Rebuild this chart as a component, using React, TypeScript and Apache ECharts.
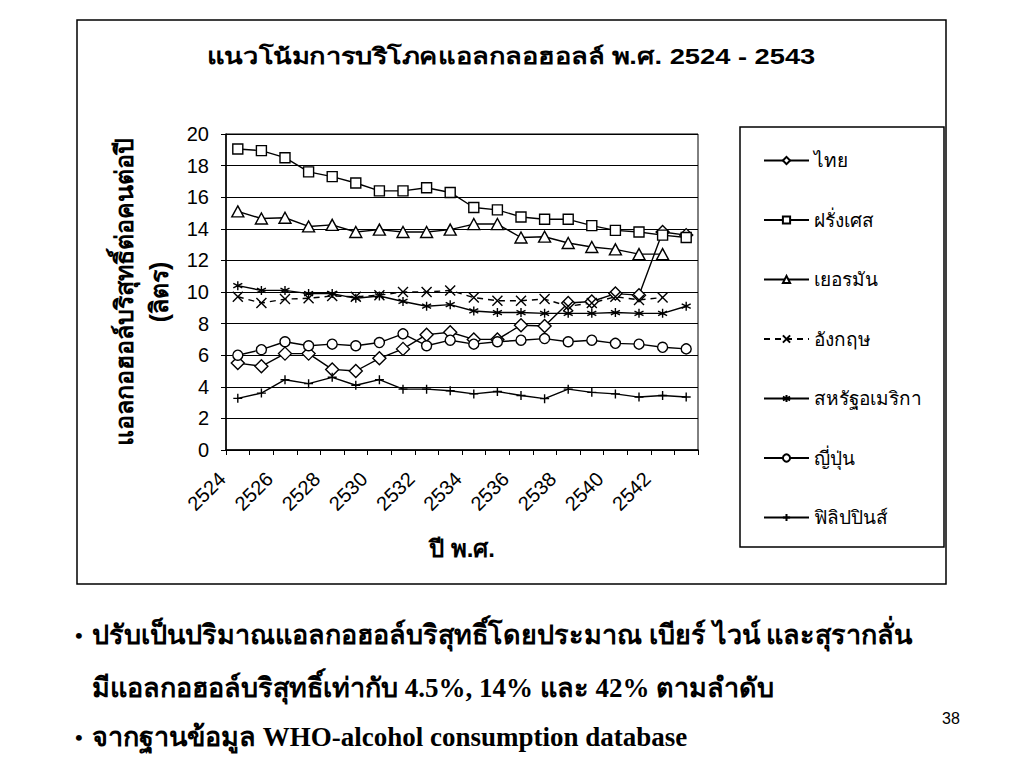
import React, { useEffect, useRef } from "react";
import * as echarts from "echarts";

const years = ["2524","2525","2526","2527","2528","2529","2530","2531","2532","2533","2534","2535","2536","2537","2538","2539","2540","2541","2542","2543"];
const yTicks = [0, 2, 4, 6, 8, 10, 12, 14, 16, 18, 20];

const thai = [5.5, 5.3, 6.1, 6.1, 5.1, 5.0, 5.8, 6.4, 7.3, 7.45, 7.0, 7.0, 7.9, 7.85, 9.3, 9.4, 9.9, 9.8, 13.8, 13.6];
const france = [19.05, 18.95, 18.5, 17.6, 17.3, 16.9, 16.4, 16.4, 16.6, 16.3, 15.35, 15.2, 14.75, 14.6, 14.6, 14.2, 13.9, 13.8, 13.6, 13.45];
const germany = [15.1, 14.65, 14.7, 14.15, 14.25, 13.8, 13.95, 13.8, 13.8, 13.95, 14.3, 14.3, 13.45, 13.5, 13.1, 12.85, 12.7, 12.4, 12.4, null];
const england = [9.7, 9.3, 9.55, 9.6, 9.75, 9.7, 9.8, 10.0, 10.0, 10.1, 9.65, 9.45, 9.45, 9.55, 9.1, 9.3, 9.7, 9.5, 9.65, null];
const usa = [10.4, 10.1, 10.1, 9.9, 9.9, 9.6, 9.75, 9.4, 9.1, 9.2, 8.8, 8.7, 8.7, 8.65, 8.65, 8.65, 8.7, 8.65, 8.65, 9.1];
const japan = [6.0, 6.35, 6.85, 6.6, 6.7, 6.6, 6.8, 7.35, 6.6, 6.95, 6.7, 6.85, 6.95, 7.05, 6.85, 6.95, 6.75, 6.7, 6.5, 6.4];
const philippines = [3.27, 3.6, 4.45, 4.2, 4.6, 4.1, 4.45, 3.85, 3.85, 3.75, 3.55, 3.7, 3.45, 3.25, 3.85, 3.65, 3.55, 3.35, 3.45, 3.35];

const seriesNames = ["ไทย", "ฝรั่งเศส", "เยอรมัน", "อังกฤษ", "สหรัฐอเมริกา", "ญี่ปุ่น", "ฟิลิปปินส์"];

const chartTitle = "แนวโน้มการบริโภคแอลกลอฮอลล์ พ.ศ. 2524 - 2543";
const yTitle = "แอลกอฮอล์บริสุทธิ์ต่อคนต่อปี\n(ลิตร)";
const xTitle = "ปี พ.ศ.";
const bullet1a = "ปรับเป็นปริมาณแอลกอฮอล์บริสุทธิ์โดยประมาณ เบียร์ ไวน์ และสุรากลั่น";
const bullet1b = "มีแอลกอฮอล์บริสุทธิ์เท่ากับ 4.5%, 14% และ 42% ตามลำดับ";
const bullet2 = "จากฐานข้อมูล WHO-alcohol consumption database";
const pageNo = "38";

const SANS = "'Liberation Sans', Arial, 'Noto Sans', sans-serif";
const SERIF = "'Liberation Serif', 'Times New Roman', serif";

const X_PATH = "path://M0,0L10,10M10,0L0,10";
const STAR_PATH = "path://M5,0L5,10M0.7,2.5L9.3,7.5M9.3,2.5L0.7,7.5";
const PLUS_PATH = "path://M5,0L5,10M0,5L10,5";

export default function App() {
  const ref = useRef<HTMLDivElement>(null);

  useEffect(() => {
    if (!ref.current) return;
    const chart = echarts.init(ref.current, null, { renderer: "svg" });

    const mk = (name: string, data: (number | null)[], symbol: string, size: any, dashed = false) => ({
      name,
      type: "line",
      data,
      symbol,
      symbolSize: size,
      showSymbol: true,
      connectNulls: false,
      lineStyle: { color: "#000", width: 1.4, type: dashed ? [6, 5] : "solid" },
      itemStyle: { color: "#fff", borderColor: "#000", borderWidth: 1.4 },
      emphasis: { disabled: true },
    });

    const option: any = {
      animation: false,
      backgroundColor: "#fff",
      grid: { left: 226, right: 326, top: 134, bottom: 318, show: true, borderColor: "#000", borderWidth: 1, backgroundColor: "transparent" },
      legend: {
        orient: "vertical",
        left: 740,
        top: 127,
        padding: [24, 10, 23, 23],
        itemWidth: 45,
        itemHeight: 9,
        itemGap: 40.5,
        data: seriesNames,
        textStyle: { fontFamily: SANS, fontSize: 19, color: "#000", lineHeight: 14 },
      },
      xAxis: {
        type: "category",
        data: years,
        boundaryGap: true,
        name: xTitle,
        nameLocation: "middle",
        nameGap: 86,
        nameTextStyle: { fontFamily: SANS, fontSize: 24, fontWeight: "bold", color: "#000" },
        axisLine: { lineStyle: { color: "#000", width: 1.5 } },
        axisTick: { show: true, interval: 0, length: 5, lineStyle: { color: "#000" } },
        axisLabel: { interval: 1, rotate: 45, fontFamily: SANS, fontSize: 20, color: "#000", margin: 10, padding: [0, 22, 0, 0] },
        splitLine: { show: false },
      },
      yAxis: {
        type: "value",
        min: yTicks[0],
        max: yTicks[yTicks.length - 1],
        interval: 2,
        name: yTitle,
        nameLocation: "middle",
        nameRotate: 90,
        nameGap: 50,
        nameTextStyle: { fontFamily: SANS, fontSize: 25, fontWeight: "bold", color: "#000", lineHeight: 35 },
        axisLine: { show: true, lineStyle: { color: "#000", width: 1.5 } },
        axisTick: { show: true, length: 5, lineStyle: { color: "#000" } },
        axisLabel: { fontFamily: SANS, fontSize: 20, color: "#000", margin: 17 },
        splitLine: { show: true, lineStyle: { color: "#000", width: 1.2 } },
      },
      graphic: [
        { type: "rect", shape: { x: 77, y: 20, width: 869, height: 564 }, style: { fill: "none", stroke: "#000", lineWidth: 1.5 }, z: -1 },
        { type: "rect", shape: { x: 740, y: 127, width: 204, height: 420 }, style: { fill: "none", stroke: "#000", lineWidth: 1.5 } },
        { type: "text", x: 511, y: 56, scaleX: 1.24, style: { text: chartTitle, font: `bold 22px ${SANS}`, fill: "#000", textAlign: "center", textVerticalAlign: "middle" } },
        { type: "text", x: 75, y: 635, style: { text: "•", font: `bold 22px ${SERIF}`, fill: "#000", verticalAlign: "middle" } },
        { type: "text", x: 92, y: 635, style: { text: bullet1a, font: `bold 27px ${SERIF}`, fill: "#000", verticalAlign: "middle" } },
        { type: "text", x: 92, y: 688, style: { text: bullet1b, font: `bold 27px ${SERIF}`, fill: "#000", verticalAlign: "middle" } },
        { type: "text", x: 75, y: 737, style: { text: "•", font: `bold 22px ${SERIF}`, fill: "#000", verticalAlign: "middle" } },
        { type: "text", x: 92, y: 737, style: { text: bullet2, font: `bold 27px ${SERIF}`, fill: "#000", verticalAlign: "middle" } },
        { type: "text", x: 942, y: 718, style: { text: pageNo, font: `16px ${SANS}`, fill: "#000", verticalAlign: "middle" } },
      ],
      series: [
        mk(seriesNames[0], thai, "diamond", 13),
        mk(seriesNames[1], france, "rect", 10),
        mk(seriesNames[2], germany, "triangle", [12, 11]),
        mk(seriesNames[3], england, X_PATH, 10, true),
        mk(seriesNames[4], usa, STAR_PATH, 9),
        mk(seriesNames[5], japan, "circle", 10),
        mk(seriesNames[6], philippines, PLUS_PATH, 9),
      ],
    };

    chart.setOption(option);
    return () => chart.dispose();
  }, []);

  return (
    <div
      ref={ref}
      style={{ position: "absolute", left: 0, top: 0, width: 1024, height: 768, background: "#fff" }}
    />
  );
}
